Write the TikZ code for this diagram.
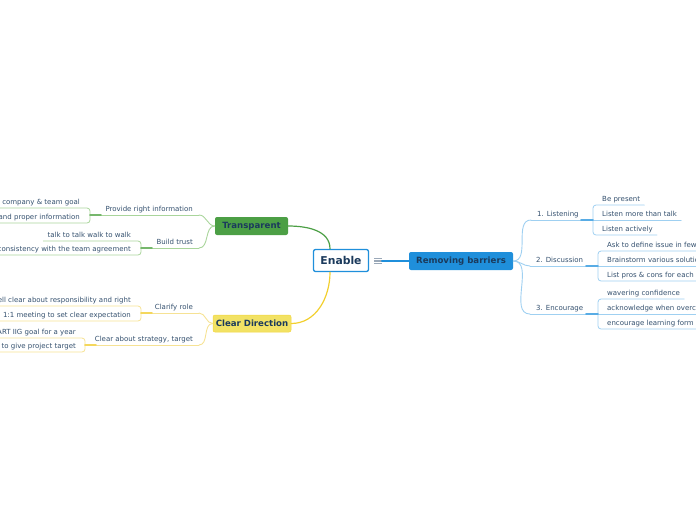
\documentclass[tikz,border=0pt]{standalone}
\usepackage{fontspec}
\setmainfont{DejaVu Sans}
\usetikzlibrary{positioning}
\definecolor{txt}{HTML}{34506E}
\definecolor{navy}{HTML}{1B3A5C}
\definecolor{grn}{HTML}{4C9F45}
\definecolor{lgrn}{HTML}{A9D59B}
\definecolor{ylw}{HTML}{F2E264}
\definecolor{dylw}{HTML}{F2CF2E}
\definecolor{lylw}{HTML}{F6E294}
\definecolor{blu}{HTML}{1F8FDB}
\definecolor{lblu}{HTML}{9FD0F1}
\definecolor{icon}{HTML}{9AA8B8}
\tikzset{
  leaf/.style={font=\fontsize{7}{8}\selectfont, text=txt, inner xsep=4pt, inner ysep=1.5pt, text height=5.2pt, text depth=1.5pt},
  sub/.style={leaf, inner xsep=6pt},
  topic/.style={font=\fontsize{8.6}{10}\selectfont\bfseries, text=navy, rounded corners=2pt, inner sep=0pt},
  knob/.style={line width=1.6pt},
  twig/.style={line width=0.8pt},
}
\begin{document}
\begin{tikzpicture}[line cap=round,line join=round,x=1pt,y=1pt]
\useasboundingbox (0,0) rectangle (696,-520);
\clip (0,0) rectangle (696,-520);
% central topic
\node[topic, draw=blu, line width=1.3pt, fill=white, minimum width=55pt, minimum height=22pt, font=\fontsize{10.8}{12}\selectfont\bfseries] (en) at (341,-260.5) {Enable};
\node[minimum width=7pt, minimum height=7pt, inner sep=0pt] (ic) at (378,-261) {};
\foreach \dy in {-2.5,0,2.5}
  \draw[icon, line width=1.3pt, line cap=butt] ([yshift=\dy pt]ic.west) -- ([yshift=\dy pt]ic.east);
% main topics
\node[topic, fill=blu, minimum width=104pt, minimum height=18pt] (rb) at (461,-261) {Removing barriers};
\node[topic, fill=grn, minimum width=73pt, minimum height=18pt] (tr) at (251.5,-226) {Transparent};
\node[topic, fill=ylw, draw=dylw!70!ylw, line width=0.5pt, minimum width=78pt, minimum height=17pt] (cd) at (252,-323.5) {Clear Direction};
\draw[blu, line width=1.2pt] (ic.east) -- (rb.west);
\draw[grn, line width=1.2pt] ([xshift=-11pt]en.north) to[out=90,in=0] (tr.east);
\draw[dylw, line width=1.2pt] ([xshift=-11pt]en.south) to[out=-90,in=0] (cd.east);

% Removing barriers
\node[sub, anchor=south west] (li) at (531,-220) {1. Listening};
\node[sub, anchor=south west] (di) at (530,-266) {2. Discussion};
\node[sub, anchor=south west] (ec) at (530,-314) {3. Encourage};
\foreach \n in {li,di,ec}
  \draw[lblu, line width=0.9pt] (rb.east) to[out=0,in=180] (\n.south west);
\coordinate (jli) at (593,-220);
\coordinate (jdi) at (598,-266);
\coordinate (jec) at (598,-314);
\node[leaf, anchor=south west] (bp) at (598,-205) {Be present};
\node[leaf, anchor=south west] (lm) at (598,-220) {Listen more than talk};
\node[leaf, anchor=south west] (la) at (598,-235) {Listen actively};
\node[leaf, anchor=south west] (af) at (603,-251) {Ask to define issue in few};
\node[leaf, anchor=south west] (bs) at (603,-266) {Brainstorm various solutions};
\node[leaf, anchor=south west] (lp) at (603,-281) {List pros \& cons for each};
\node[leaf, anchor=south west] (wc) at (603,-299) {wavering confidence};
\node[leaf, anchor=south west] (ak) at (603,-314) {acknowledge when overcome};
\node[leaf, anchor=south west] (el) at (603,-329) {encourage learning form};
\draw[lblu, twig, rounded corners=3pt] (bp.south east) -| (jli) |- (la.south east);
\draw[lblu, twig, rounded corners=3pt] (af.south east) -| (jdi) |- (lp.south east);
\draw[lblu, twig, rounded corners=3pt] (wc.south east) -| (jec) |- (el.south east);
\draw[lblu, twig] (jli) -- (lm.south east);
\draw[lblu, twig] (jdi) -- (bs.south east);
\draw[lblu, twig] (jec) -- (ak.south east);
\draw[lblu, twig] (li.south west) -- (jli);
\draw[lblu, twig] (di.south west) -- (jdi);
\draw[lblu, twig] (ec.south west) -- (jec);
\foreach \j in {jli,jdi,jec}
  \draw[blu!55!lblu, knob] ([xshift=-12pt]\j) -- (\j);

% Transparent
\node[sub, anchor=south east] (pri) at (199,-215) {Provide right information};
\node[sub, anchor=south east] (bt) at (199,-248) {Build trust};
\foreach \n in {pri,bt}
  \draw[lgrn, line width=0.9pt] (tr.west) to[out=180,in=0] (\n.south east);
\coordinate (jpri) at (90,-215);
\coordinate (jbt) at (141,-248);
\node[leaf, anchor=south east] (cg) at (84,-208) {company \& team goal};
\node[leaf, anchor=south east] (ap) at (84,-223) {and proper information};
\node[leaf, anchor=south east] (tw) at (135,-241) {talk to talk walk to walk};
\node[leaf, anchor=south east] (cs) at (135,-255) {consistency with the team agreement};
\draw[lgrn, twig, rounded corners=3pt] (cg.south west) -| (jpri) |- (ap.south west);
\draw[lgrn, twig, rounded corners=3pt] (tw.south west) -| (jbt) |- (cs.south west);
\draw[lgrn, twig] (jpri) -- (pri.south east);
\draw[lgrn, twig] (jbt) -- (bt.south east);
\foreach \j in {jpri,jbt}
  \draw[grn!55!lgrn, knob] (\j) -- ([xshift=11pt]\j);

% Clear Direction
\node[sub, anchor=south east] (cr) at (199,-313) {Clarify role};
\node[sub, anchor=south east] (ca) at (199,-345) {Clear about strategy, target};
\foreach \n in {cr,ca}
  \draw[lylw, line width=0.9pt] (cd.west) to[out=180,in=0] (\n.south east);
\coordinate (jcr) at (141,-313);
\coordinate (jca) at (85,-345);
\node[leaf, anchor=south east] (tc) at (135,-306) {to tell clear about responsibility and right};
\node[leaf, anchor=south east] (mt) at (135,-321) {1:1 meeting to set clear expectation};
\node[leaf, anchor=south east] (sg) at (80,-338) {SMART IIG goal for a year};
\node[leaf, anchor=south east] (gp) at (80,-352) {s to give project target};
\draw[lylw, twig, rounded corners=3pt] (tc.south west) -| (jcr) |- (mt.south west);
\draw[lylw, twig, rounded corners=3pt] (sg.south west) -| (jca) |- (gp.south west);
\draw[lylw, twig] (jcr) -- (cr.south east);
\draw[lylw, twig] (jca) -- (ca.south east);
\foreach \j in {jcr,jca}
  \draw[dylw!55!lylw, knob] (\j) -- ([xshift=11pt]\j);
\end{tikzpicture}
\end{document}
